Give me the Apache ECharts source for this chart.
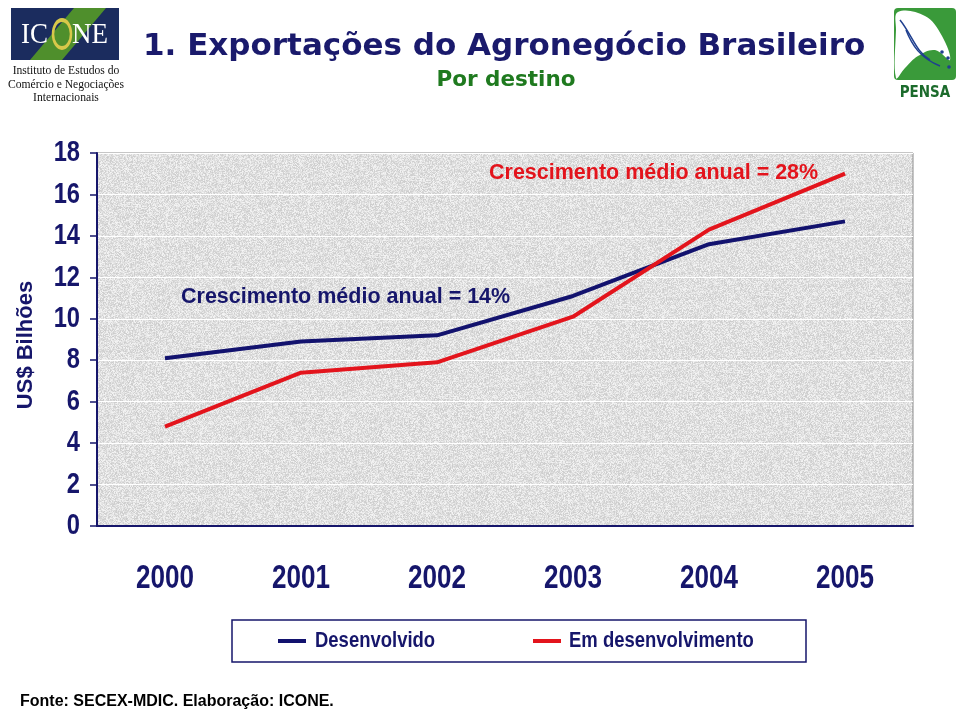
<!DOCTYPE html>
<html><head><meta charset="utf-8">
<script src="https://cdn.jsdelivr.net/npm/echarts@6/dist/echarts.min.js"></script>
<style>html,body{margin:0;padding:0;background:#fff}#c{width:960px;height:712px}</style>
</head><body><div id="c"></div>
<script>
const years = ['2000','2001','2002','2003','2004','2005'];
const desenvolvido = [8.1, 8.9, 9.2, 11.1, 13.6, 14.7];
const emDesenvolvimento = [4.8, 7.4, 7.9, 10.1, 14.3, 17.0];
const yTickLabels = [0, 2, 4, 6, 8, 10, 12, 14, 16, 18];
const seriesNames = ['Desenvolvido', 'Em desenvolvimento'];
const annotations = ['Crescimento médio anual = 28%', 'Crescimento médio anual = 14%'];

const NAVY = '#16166b';
const LINE_NAVY = '#12126e';
const RED = '#e3141c';
const ARIAL = "'Liberation Sans',Arial,sans-serif";

// deterministic texture for plot background
function makeTexture(w, h){
  const c = document.createElement('canvas'); c.width = w; c.height = h;
  const g = c.getContext('2d');
  const img = g.createImageData(w,h);
  let s = 12345;
  for (let i=0;i<w*h;i++){
    s = (s*1103515245 + 12345) & 0x7fffffff;
    const v = 204 + ((s >> 8) % 42);
    img.data[i*4]=v; img.data[i*4+1]=v; img.data[i*4+2]=v; img.data[i*4+3]=255;
  }
  g.putImageData(img,0,0);
  return c.toDataURL();
}

const chart = echarts.init(document.getElementById('c'), null, {renderer:'canvas'});
chart.setOption({
  backgroundColor: '#fff',
  animation: false,
  grid: {left: 97, top: 153, right: 47, bottom: 186, show: true,
    backgroundColor: 'transparent', borderColor: '#8c8c8c', borderWidth: 1},
  legend: [
    {data: [seriesNames[0]], left: 273, top: 634, itemWidth: 28, itemHeight: 4, icon: 'rect',
      formatter: () => '', textStyle: {fontSize: 20}},
    {data: [seriesNames[1]], left: 528, top: 634, itemWidth: 28, itemHeight: 4, icon: 'rect',
      formatter: () => '', textStyle: {fontSize: 20}}
  ],
  xAxis: {
    type: 'category', data: years, boundaryGap: true,
    axisLine: {lineStyle: {color: NAVY, width: 2}},
    axisTick: {length: 10, lineStyle: {color: NAVY, width: 1.5}},
    axisLabel: {show: false}
  },
  yAxis: {
    type: 'value', min: yTickLabels[0], max: yTickLabels[yTickLabels.length-1],
    interval: yTickLabels[1] - yTickLabels[0],
    axisLine: {show: true, lineStyle: {color: NAVY, width: 2}},
    axisTick: {show: true, length: 7, lineStyle: {color: NAVY, width: 1.5}},
    axisLabel: {show: false},
    splitLine: {lineStyle: {color: '#ffffff', width: 1.2}}
  },
  series: [
    {name: seriesNames[0], type: 'line', data: desenvolvido, symbol: 'none',
      lineStyle: {color: LINE_NAVY, width: 4}, itemStyle: {color: LINE_NAVY}},
    {name: seriesNames[1], type: 'line', data: emDesenvolvimento, symbol: 'none',
      lineStyle: {color: RED, width: 4}, itemStyle: {color: RED}}
  ]
});

// narrow tick labels placed through the chart's own scales
const labelGraphics = [];
const baseY = chart.convertToPixel({yAxisIndex: 0}, yTickLabels[0]);
const leftX = chart.convertToPixel({xAxisIndex: 0}, years[0]) -
  (chart.convertToPixel({xAxisIndex: 0}, years[1]) - chart.convertToPixel({xAxisIndex: 0}, years[0])) / 2;
years.forEach(function (yr) {
  labelGraphics.push({type: 'text', x: chart.convertToPixel({xAxisIndex: 0}, yr), y: baseY + 53,
    scaleX: 0.79, style: {text: yr, align: 'center', verticalAlign: 'middle',
      font: 'bold 33px ' + ARIAL, fill: NAVY}});
});
yTickLabels.forEach(function (v) {
  labelGraphics.push({type: 'text', x: leftX - 17, y: chart.convertToPixel({yAxisIndex: 0}, v),
    scaleX: 0.79, style: {text: String(v), align: 'right', verticalAlign: 'middle',
      font: 'bold 30px ' + ARIAL, fill: NAVY}});
});

chart.setOption({
  graphic: [
    // plot texture
    {type: 'image', z: -10, style: {image: makeTexture(816, 373), x: 97, y: 153, width: 816, height: 373}},
    // title
    {type: 'text', left: 143, top: 31, style: {text: '1. Exportações do Agronegócio Brasileiro',
      font: "bold 31px 'DejaVu Sans',sans-serif", fill: '#1a1a6c'}},
    {type: 'text', x: 506, y: 80, style: {text: 'Por destino', align: 'center', verticalAlign: 'middle',
      font: "bold 21.5px 'DejaVu Sans',sans-serif", fill: '#1f7a1f'}},
    // y-axis name
    {type: 'text', x: 26, y: 345, rotation: Math.PI / 2, style: {text: 'US$ Bilhões', align: 'center',
      verticalAlign: 'middle', font: 'bold 22px ' + ARIAL, fill: NAVY}},
    // annotations
    {type: 'text', x: 489, y: 173, style: {text: annotations[0], verticalAlign: 'middle',
      font: 'bold 21.5px ' + ARIAL, fill: RED}},
    {type: 'text', x: 181, y: 297, style: {text: annotations[1], verticalAlign: 'middle',
      font: 'bold 21.5px ' + ARIAL, fill: NAVY}},
    // legend box + texts
    {type: 'rect', shape: {x: 232, y: 620, width: 574, height: 42},
      style: {fill: 'none', stroke: NAVY, lineWidth: 1.5}},
    {type: 'text', x: 315, y: 641, scaleX: 0.84, style: {text: seriesNames[0], verticalAlign: 'middle',
      font: 'bold 22px ' + ARIAL, fill: NAVY}},
    {type: 'text', x: 569, y: 641, scaleX: 0.84, style: {text: seriesNames[1], verticalAlign: 'middle',
      font: 'bold 22px ' + ARIAL, fill: NAVY}},
    // footer
    {type: 'text', x: 20, y: 702, style: {text: 'Fonte: SECEX-MDIC. Elaboração: ICONE.', verticalAlign: 'middle',
      font: 'bold 16px ' + ARIAL, fill: '#000'}},
    // ICONE logo
    {type: 'rect', shape: {x: 11, y: 8, width: 108, height: 52}, style: {fill: '#1b2c5e'}},
    {type: 'polygon', shape: {points: [[30,60],[62,60],[106,8],[74,8]]}, style: {fill: '#4f8f2c'}},
    {type: 'text', x: 21, y: 35, scaleX: 0.9, style: {text: 'IC', verticalAlign: 'middle', font: "30px 'Liberation Serif',serif", fill: '#fff'}},
    {type: 'circle', x: 62, y: 34, scaleY: 1.55, shape: {cx: 0, cy: 0, r: 9},
      style: {fill: 'none', stroke: '#d8c84a', lineWidth: 2.5}},
    {type: 'text', x: 72, y: 35, scaleX: 0.9, style: {text: 'NE', verticalAlign: 'middle', font: "30px 'Liberation Serif',serif", fill: '#fff'}},
    {type: 'text', x: 66, y: 70, scaleX: 0.86, style: {text: 'Instituto de Estudos do', align: 'center',
      verticalAlign: 'middle', font: "13.5px 'Liberation Serif',serif", fill: '#111'}},
    {type: 'text', x: 66, y: 84, scaleX: 0.86, style: {text: 'Comércio e Negociações', align: 'center',
      verticalAlign: 'middle', font: "13.5px 'Liberation Serif',serif", fill: '#111'}},
    {type: 'text', x: 66, y: 97, scaleX: 0.86, style: {text: 'Internacionais', align: 'center',
      verticalAlign: 'middle', font: "13.5px 'Liberation Serif',serif", fill: '#111'}},
    // PENSA logo
    {type: 'rect', shape: {x: 894, y: 8, width: 62, height: 72, r: 4}, style: {fill: '#3a9a3a'}},
    {type: 'polygon', shape: {points: [[898,12],[925,16],[942,36],[950,60],[935,50],[918,56],[905,68],[896,78],[896,30]], smooth: 0.4},
      style: {fill: '#fff'}},
    {type: 'bezierCurve', shape: {x1: 900, y1: 20, x2: 930, y2: 60, cpx1: 912, cpy1: 35, cpx2: 916, cpy2: 52},
      style: {fill: 'none', stroke: '#1f3f8f', lineWidth: 1.5}},
    {type: 'bezierCurve', shape: {x1: 906, y1: 30, x2: 940, y2: 66, cpx1: 912, cpy1: 45, cpx2: 920, cpy2: 58},
      style: {fill: 'none', stroke: '#1f3f8f', lineWidth: 1.5}},
    {type: 'circle', shape: {cx: 942, cy: 52, r: 1.8}, style: {fill: '#1f3f8f'}},
    {type: 'circle', shape: {cx: 948, cy: 58, r: 1.8}, style: {fill: '#1f3f8f'}},
    {type: 'circle', shape: {cx: 949, cy: 67, r: 1.8}, style: {fill: '#1f3f8f'}},
    {type: 'text', x: 925, y: 93, style: {text: 'PENSA', align: 'center', verticalAlign: 'middle',
      font: "bold 15px 'DejaVu Sans Condensed',sans-serif", fill: '#1c6b2c'}}
  ].concat(labelGraphics)
});
</script></body></html>
